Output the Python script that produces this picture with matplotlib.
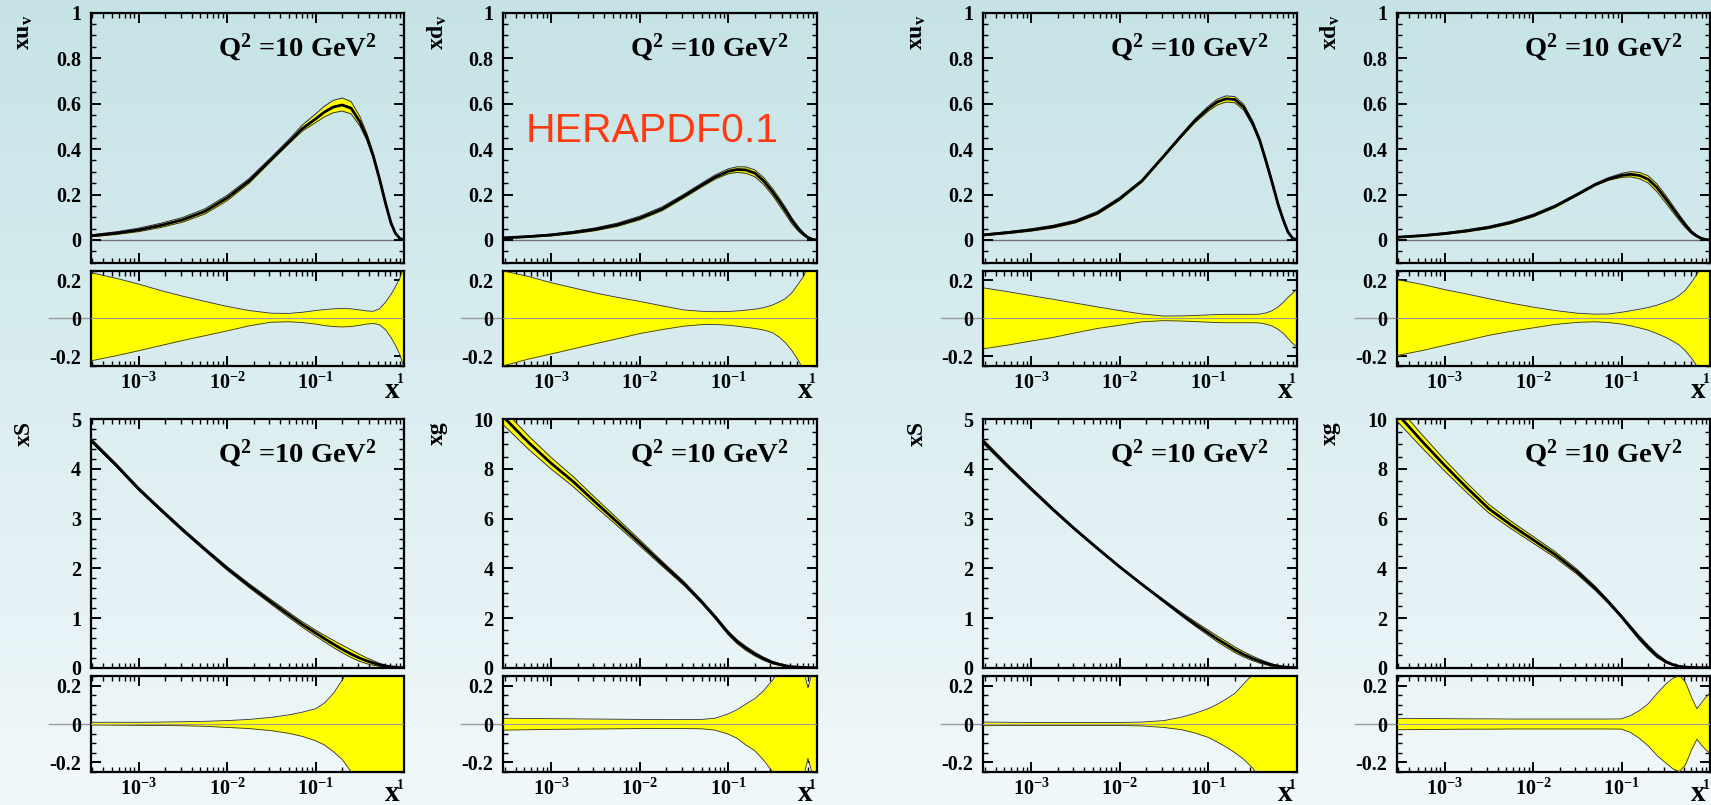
import numpy as np
import matplotlib
matplotlib.use("Agg")
import matplotlib.pyplot as plt
from matplotlib.ticker import LogLocator, MultipleLocator, FixedLocator, FixedFormatter, FuncFormatter, NullFormatter

plt.rcParams['font.family'] = ['Liberation Serif', 'DejaVu Serif']
plt.rcParams['font.weight'] = 'bold'
plt.rcParams['mathtext.fontset'] = 'custom'
plt.rcParams['mathtext.rm'] = 'Liberation Serif:bold'
plt.rcParams['mathtext.it'] = 'Liberation Serif:bold:italic'
plt.rcParams['mathtext.bf'] = 'Liberation Serif:bold'
plt.rcParams['mathtext.default'] = 'rm'
plt.rcParams['axes.unicode_minus'] = False

# ---------------------------------------------------------------- data
# sampling points in log10(x)
LOG_X = [-3.54, -3.25, -3.0, -2.75, -2.5, -2.25, -2.0, -1.75, -1.5,
         -1.3, -1.15, -1.0, -0.9, -0.8, -0.7, -0.6, -0.5, -0.42, -0.35,
         -0.28, -0.21, -0.15, -0.1, -0.05, 0.0]

# fit A: x u_v, x d_v, x Sigma, x g  (central value, relative upper / lower error)
xuv_a = [0.018, 0.030, 0.044, 0.064, 0.089, 0.126, 0.185, 0.260, 0.355,
         0.432, 0.490, 0.533, 0.563, 0.585, 0.594, 0.580, 0.520, 0.450, 0.370,
         0.270, 0.160, 0.075, 0.030, 0.007, 0.0]
xuv_a_hi = [0.24, 0.21, 0.18, 0.146, 0.116, 0.089, 0.0625, 0.041, 0.027,
            0.026, 0.032, 0.041, 0.046, 0.050, 0.052, 0.050, 0.044, 0.039, 0.037,
            0.050, 0.085, 0.125, 0.165, 0.21, 0.28]
xuv_a_lo = [-0.223, -0.196, -0.17, -0.143, -0.116, -0.091, -0.066, -0.039, -0.02,
            -0.018, -0.022, -0.03, -0.038, -0.043, -0.045, -0.043, -0.036, -0.03, -0.027,
            -0.033, -0.06, -0.10, -0.14, -0.19, -0.26]

xdv_a = [0.009, 0.015, 0.022, 0.033, 0.047, 0.067, 0.096, 0.136, 0.193,
         0.241, 0.276, 0.302, 0.310, 0.308, 0.294, 0.260, 0.212, 0.168, 0.128,
         0.085, 0.050, 0.026, 0.011, 0.003, 0.0]
xdv_a_hi = [0.249, 0.219, 0.187, 0.16, 0.133, 0.11, 0.089, 0.066, 0.044,
            0.037, 0.035, 0.036, 0.039, 0.043, 0.048, 0.056, 0.07, 0.087, 0.105,
            0.135, 0.18, 0.22, 0.27, 0.32, 0.36]
xdv_a_lo = [-0.249, -0.213, -0.187, -0.16, -0.133, -0.107, -0.08, -0.059, -0.041,
            -0.033, -0.032, -0.036, -0.041, -0.047, -0.053, -0.061, -0.075, -0.10, -0.13,
            -0.17, -0.22, -0.27, -0.31, -0.36, -0.40]

xsea_a = [4.58, 4.07, 3.60, 3.18, 2.77, 2.38, 2.00, 1.65, 1.32,
          1.06, 0.87, 0.70, 0.585, 0.475, 0.37, 0.275, 0.19, 0.135, 0.095,
          0.06, 0.035, 0.018, 0.009, 0.003, 0.0]
xsea_a_hi = [0.009, 0.009, 0.009, 0.010, 0.012, 0.014, 0.018, 0.024, 0.035,
             0.048, 0.062, 0.08, 0.11, 0.16, 0.23, 0.31, 0.40, 0.45, 0.5,
             0.5, 0.5, 0.5, 0.5, 0.5, 0.5]
xsea_a_lo = [-0.005, -0.006, -0.007, -0.008, -0.009, -0.012, -0.018, -0.024, -0.035,
             -0.049, -0.065, -0.088, -0.11, -0.145, -0.186, -0.25, -0.34, -0.42, -0.5,
             -0.5, -0.5, -0.5, -0.5, -0.5, -0.5]

xg_a = [10.1, 9.05, 8.23, 7.49, 6.66, 5.85, 5.03, 4.20, 3.39,
        2.65, 2.05, 1.40, 1.05, 0.78, 0.55, 0.36, 0.21, 0.13, 0.075,
        0.04, 0.02, 0.009, 0.004, 0.001, 0.0]
xg_a_hi = [0.030, 0.029, 0.028, 0.027, 0.026, 0.025, 0.024, 0.023, 0.023,
           0.024, 0.03, 0.053, 0.075, 0.105, 0.133, 0.175, 0.23, 0.28, 0.33,
           0.37, 0.35, 0.28, 0.19, 0.27, 0.35]
xg_a_lo = [-0.032, -0.030, -0.028, -0.027, -0.026, -0.025, -0.024, -0.024, -0.024,
           -0.025, -0.032, -0.053, -0.075, -0.11, -0.14, -0.19, -0.25, -0.30, -0.35,
           -0.38, -0.36, -0.28, -0.18, -0.26, -0.35]

# fit B
xuv_b = [0.022, 0.033, 0.044, 0.059, 0.081, 0.119, 0.181, 0.259, 0.370,
         0.460, 0.525, 0.578, 0.607, 0.621, 0.618, 0.585, 0.515, 0.440, 0.350,
         0.255, 0.155, 0.085, 0.035, 0.009, 0.0]
xuv_b_hi = [0.16, 0.139, 0.119, 0.10, 0.08, 0.06, 0.041, 0.023, 0.012,
            0.013, 0.015, 0.018, 0.020, 0.021, 0.021, 0.021, 0.021, 0.022, 0.028,
            0.040, 0.060, 0.085, 0.11, 0.13, 0.155]
xuv_b_lo = [-0.16, -0.139, -0.119, -0.10, -0.076, -0.053, -0.036, -0.018, -0.012,
            -0.014, -0.017, -0.02, -0.022, -0.023, -0.023, -0.023, -0.023, -0.024, -0.03,
            -0.04, -0.058, -0.08, -0.105, -0.13, -0.15]

xdv_b = [0.012, 0.019, 0.028, 0.040, 0.055, 0.077, 0.107, 0.148, 0.200,
         0.243, 0.268, 0.284, 0.289, 0.284, 0.267, 0.230, 0.180, 0.137, 0.100,
         0.065, 0.034, 0.017, 0.007, 0.002, 0.0]
xdv_b_hi = [0.204, 0.178, 0.151, 0.128, 0.103, 0.08, 0.059, 0.041, 0.027,
            0.022, 0.023, 0.032, 0.04, 0.048, 0.057, 0.069, 0.086, 0.10, 0.12,
            0.148, 0.19, 0.232, 0.265, 0.29, 0.32]
xdv_b_lo = [-0.195, -0.169, -0.142, -0.116, -0.089, -0.068, -0.05, -0.032, -0.021,
            -0.018, -0.022, -0.03, -0.039, -0.05, -0.062, -0.08, -0.10, -0.12, -0.14,
            -0.17, -0.21, -0.25, -0.28, -0.30, -0.32]

xsea_b = [4.55, 4.03, 3.60, 3.18, 2.78, 2.40, 2.03, 1.68, 1.34,
          1.07, 0.88, 0.70, 0.58, 0.47, 0.36, 0.265, 0.185, 0.13, 0.09,
          0.055, 0.03, 0.015, 0.007, 0.002, 0.0]
xsea_b_hi = [0.010, 0.009, 0.008, 0.008, 0.008, 0.008, 0.008, 0.010, 0.018,
             0.036, 0.056, 0.08, 0.103, 0.13, 0.16, 0.21, 0.26, 0.31, 0.36,
             0.4, 0.4, 0.4, 0.4, 0.4, 0.4]
xsea_b_lo = [-0.009, -0.008, -0.008, -0.008, -0.008, -0.008, -0.008, -0.010, -0.018,
             -0.03, -0.047, -0.07, -0.094, -0.12, -0.15, -0.185, -0.23, -0.28, -0.34,
             -0.4, -0.4, -0.4, -0.4, -0.4, -0.4]

xg_b = [10.25, 9.10, 8.15, 7.25, 6.40, 5.75, 5.15, 4.55, 3.85,
        3.20, 2.65, 2.05, 1.62, 1.20, 0.82, 0.48, 0.24, 0.12, 0.055,
        0.025, 0.010, 0.004, 0.002, 0.0005, 0.0]
xg_b_hi = [0.030, 0.029, 0.028, 0.027, 0.027, 0.026, 0.026, 0.026, 0.026,
           0.026, 0.026, 0.027, 0.044, 0.07, 0.106, 0.16, 0.21, 0.24, 0.257,
           0.22, 0.14, 0.08, 0.11, 0.14, 0.165]
xg_b_lo = [-0.030, -0.029, -0.028, -0.027, -0.027, -0.026, -0.026, -0.026, -0.026,
           -0.026, -0.026, -0.027, -0.044, -0.075, -0.115, -0.165, -0.205, -0.235, -0.25,
           -0.215, -0.135, -0.08, -0.11, -0.135, -0.155]

X_TICKS = [1e-3, 1e-2, 1e-1, 1.0]
X_TICK_LABELS = [r'$10^{-3}$', r'$10^{-2}$', r'$10^{-1}$', '']
X_END_LABEL = '1'
SCALE_TEXT = r'Q$^{2}$ =10 GeV$^{2}$'

# ---------------------------------------------------------------- layout
W, H = 1711, 805
fig = plt.figure(figsize=(W / 100, H / 100), dpi=100)

# vertical gradient background
bg = fig.add_axes([0, 0, 1, 1], zorder=-10)
top_c = np.array([197, 227, 230]) / 255.0
bot_c = np.array([241, 248, 251]) / 255.0
t = np.linspace(0, 1, 256)[:, None]
grad = top_c[None, None, :] * (1 - t[..., None]) + bot_c[None, None, :] * t[..., None]
grad = np.repeat(grad, 2, axis=1)
bg.imshow(grad, aspect='auto', extent=[0, 1, 0, 1], origin='upper')
bg.set_axis_off()

col_left = [90.7, 503.3, 983.3, 1396.7]
col_w = 313.5
rows = {  # (main top, main bottom, ratio top, ratio bottom, x-label baseline offset) in pixels
    0: (12.7, 262.7, 270.7, 366.0, 32.0),
    1: (419.3, 667.7, 676.3, 771.7, 29.0),
}

YELLOW = '#ffff00'
EDGE = '#303030'


def px_axes(left, top, bottom):
    return fig.add_axes([left / W, 1 - bottom / H, col_w / W, (bottom - top) / H])


def style(ax, ymajor, yminor):
    ax.set_facecolor('none')
    ax.set_xscale('log')
    ax.set_xlim(10 ** -3.54, 1.0)
    ax.xaxis.set_major_locator(FixedLocator(X_TICKS))
    ax.xaxis.set_minor_locator(LogLocator(base=10, subs=np.arange(2, 10), numticks=20))
    ax.xaxis.set_minor_formatter(NullFormatter())
    ax.yaxis.set_major_locator(MultipleLocator(ymajor))
    ax.yaxis.set_minor_locator(MultipleLocator(yminor))
    ax.yaxis.set_major_formatter(FuncFormatter(lambda v, p: '%g' % round(v, 3)))
    ax.tick_params(which='both', direction='in', top=True, right=True,
                   labelsize=14.5, colors='black')
    ax.tick_params(which='major', length=7, width=1.4)
    ax.tick_params(which='minor', length=3.5, width=1.0)
    ax.tick_params(axis='y', pad=7)
    ax.tick_params(axis='x', pad=5)
    for s in ax.spines.values():
        s.set_linewidth(1.6)
        s.set_color('black')


def draw_main(ax, central, hi, lo, ylim, ymajor, yminor, ylabel, zero_line):
    x = 10 ** np.array(LOG_X)
    c = np.array(central)
    up = c * (1 + np.array(hi))
    dn = c * (1 + np.array(lo))
    if zero_line:
        ax.axhline(0, color='#707070', lw=1.0, zorder=1)
    ax.fill_between(x, dn, up, color=YELLOW, lw=0, zorder=2)
    ax.plot(x, up, color=EDGE, lw=0.7, zorder=3)
    ax.plot(x, dn, color=EDGE, lw=0.7, zorder=3)
    ax.plot(x, c, color='black', lw=2.0, zorder=4, solid_joinstyle='round')
    style(ax, ymajor, yminor)
    ax.set_ylim(*ylim)
    ax.xaxis.set_major_formatter(NullFormatter())
    ax.text(0.912, 0.86, SCALE_TEXT, transform=ax.transAxes, ha='right', va='center',
            fontsize=20.5, fontweight='bold')
    ax.text(-66 / col_w, 1.0 - 2 / 250, ylabel, transform=ax.transAxes, rotation=90,
            ha='center', va='top', fontsize=17, fontweight='bold')


def draw_ratio(ax, hi, lo, label_off):
    x = 10 ** np.array(LOG_X)
    h = ax.get_position().height * H
    ax.axhline(0, xmin=-0.134, xmax=1.0, color='#9a9a9a', lw=1.0, clip_on=False, zorder=1)
    ax.fill_between(x, lo, hi, color=YELLOW, lw=0, zorder=2)
    ax.plot(x, hi, color=EDGE, lw=0.6, zorder=3)
    ax.plot(x, lo, color=EDGE, lw=0.6, zorder=3)
    ax.axhline(0, color='#9a9a9a', lw=0.8, zorder=4)
    style(ax, 0.2, 0.05)
    ax.set_ylim(-0.25, 0.25)
    ax.xaxis.set_major_formatter(FixedFormatter(X_TICK_LABELS))
    ax.text(0.998, -7 / h, X_END_LABEL, transform=ax.transAxes, ha='right', va='top',
            fontsize=10, fontweight='bold')
    ax.text(0.985, -label_off / h, 'x', transform=ax.transAxes, ha='right', va='baseline',
            fontsize=21, fontweight='bold')


panels = [
    # (row, col, central, hi, lo, ylim, major, minor, label, zero line)
    (0, 0, xuv_a, xuv_a_hi, xuv_a_lo, (-0.1, 1.0), 0.2, 0.05, r'$\mathrm{xu}_{\mathrm{v}}$', True),
    (0, 1, xdv_a, xdv_a_hi, xdv_a_lo, (-0.1, 1.0), 0.2, 0.05, r'$\mathrm{xd}_{\mathrm{v}}$', True),
    (0, 2, xuv_b, xuv_b_hi, xuv_b_lo, (-0.1, 1.0), 0.2, 0.05, r'$\mathrm{xu}_{\mathrm{v}}$', True),
    (0, 3, xdv_b, xdv_b_hi, xdv_b_lo, (-0.1, 1.0), 0.2, 0.05, r'$\mathrm{xd}_{\mathrm{v}}$', True),
    (1, 0, xsea_a, xsea_a_hi, xsea_a_lo, (0, 5), 1, 0.2, 'xS', False),
    (1, 1, xg_a, xg_a_hi, xg_a_lo, (0, 10), 2, 0.5, 'xg', False),
    (1, 2, xsea_b, xsea_b_hi, xsea_b_lo, (0, 5), 1, 0.2, 'xS', False),
    (1, 3, xg_b, xg_b_hi, xg_b_lo, (0, 10), 2, 0.5, 'xg', False),
]

for row, col, cen, hi, lo, ylim, maj, mnr, lab, zl in panels:
    mt, mb, rt, rb, xoff = rows[row]
    ax_main = px_axes(col_left[col], mt, mb)
    draw_main(ax_main, cen, hi, lo, ylim, maj, mnr, lab, zl)
    ax_ratio = px_axes(col_left[col], rt, rb)
    draw_ratio(ax_ratio, hi, lo, xoff)

fig.text(526 / W, 1 - 142 / H, 'HERAPDF0.1', ha='left', va='baseline', fontsize=29.5,
         family='Liberation Sans', fontweight='normal', color='#ff3a12')

fig.savefig('out.png', dpi=100)
